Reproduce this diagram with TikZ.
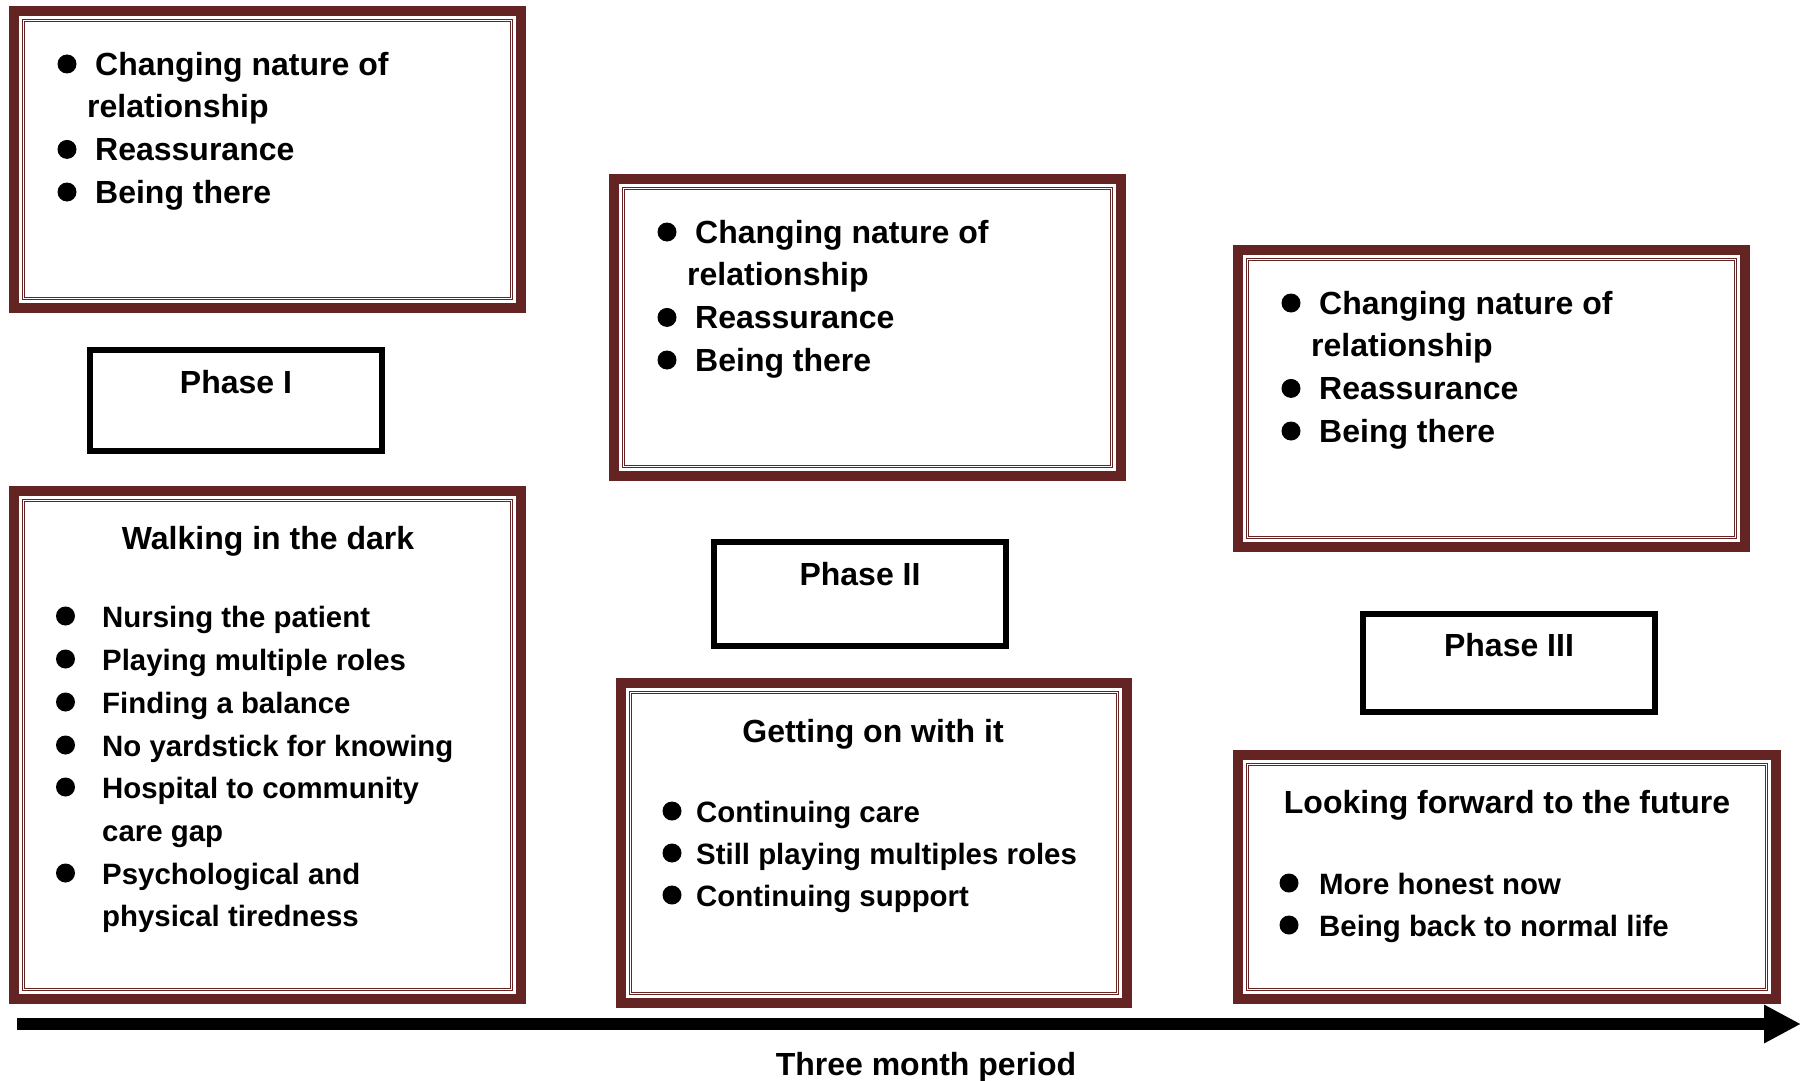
\documentclass[tikz,border=0pt]{standalone}
\usepackage{fontspec}
\setmainfont{Liberation Sans}
\usetikzlibrary{arrows.meta,positioning}

\definecolor{maroon}{RGB}{99,36,35}

\tikzset{
  frame/.style={draw=maroon, line width=10pt, inner sep=0pt},
  frameline/.style={draw=maroon, line width=1.1pt, double=white, double distance=1.3pt, inner sep=0pt},
  phasebox/.style={draw=black, line width=6pt, inner sep=0pt, minimum width=292pt},
  lbl/.style={font=\fontsize{32}{40}\selectfont\bfseries, inner sep=0pt, anchor=base west},
  item/.style={lbl, font=\fontsize{29.4}{36}\selectfont\bfseries},
  ttl/.style={lbl, anchor=base},
  dot/.style={circle, fill=black, inner sep=0pt, minimum size=19pt},
}

\begin{document}
\begin{tikzpicture}[x=1pt,y=-1pt]
    \path[fill=white] (0,0) rectangle (1802,1081);
    \useasboundingbox (0,0) rectangle (1802,1081);

    % framed boxes
    \foreach \n/\cx/\cy/\w/\h in {A/267.5/159.5/517/307, B/267.5/745/517/518, C/867.5/327.5/517/307,
                                  D/874/843/516/330, E/1491.5/398.5/517/307, F/1507/877/548/254}
    {
      \node[frame, minimum width={(\w-10)*1pt}, minimum height={(\h-10)*1pt}] (\n) at (\cx,\cy) {};
      \node[frameline, minimum width={(\w-29)*1pt}, minimum height={(\h-29)*1pt}] (\n-in) at (\n.center) {};
    }

    % the three upper boxes
    \foreach \n/\dx/\dy in {A/0/0, C/600/168, E/1224/239}
    {
      \begin{scope}[shift={(\dx,\dy)}]
        \node[dot] (\n-d1) at (67,64) {};
        \node[lbl] (\n-t1) at (95,75) {Changing nature of};
        \node[lbl] (\n-t2) at (87,117.7) {relationship};
        \node[dot] (\n-d3) at (67,149.4) {};
        \node[lbl] (\n-t3) at (95,160.4) {Reassurance};
        \node[dot] (\n-d4) at (67,192) {};
        \node[lbl] (\n-t4) at (95,203) {Being there};
      \end{scope}
    }

    % phase I
    \node[ttl] (B-t0) at (268,549) {Walking in the dark};
    \foreach \y/\t [count=\i] in {627/Nursing the patient, 670/Playing multiple roles, 713/Finding a balance,
                                 756/No yardstick for knowing, 798/Hospital to community, 841/care gap,
                                 884/Psychological and, 926/physical tiredness}
      \node[item] (B-t\i) at (102,\y) {\t};
    \foreach \y [count=\i] in {627,670,713,756,798,884}
      \node[dot] (B-d\i) at (65.5,\y-11) {};

    % phase II
    \node[ttl] (D-t0) at (873,742) {Getting on with it};
    \foreach \y/\t [count=\i] in {822/Continuing care, 864/Still playing multiples roles, 906/Continuing support}
    {
      \node[dot] (D-d\i) at (672,\y-11) {};
      \node[item] (D-t\i) at (696,\y) {\t};
    }

    % phase III
    \node[ttl] (F-t0) at (1507,813) {Looking forward to the future};
    \foreach \y/\t [count=\i] in {894/More honest now, 936/Being back to normal life}
    {
      \node[dot] (F-d\i) at (1289,\y-11) {};
      \node[item] (F-t\i) at (1319,\y) {\t};
    }

    % phase labels
    \node[phasebox, minimum height=101pt] (p1) at (236,400.5) {};
    \node[phasebox, minimum height=104pt] (p2) at (860,594) {};
    \node[phasebox, minimum height=98pt] (p3) at (1508.5,663) {};
    \node[ttl] (p1-t) at (236,393) {Phase I};
    \node[ttl] (p2-t) at (860,585) {Phase II};
    \node[ttl] (p3-t) at (1509,656) {Phase III};

    % time line
    \coordinate (t0) at (17,1024);
    \coordinate (t1) at (1801,1024);
    \draw[line width=12pt, -{Triangle[length=37pt,width=36pt]}] (t0) -- (t1);
    \node[ttl] (tlbl) at (926,1075) {Three month period};
\end{tikzpicture}
\end{document}
